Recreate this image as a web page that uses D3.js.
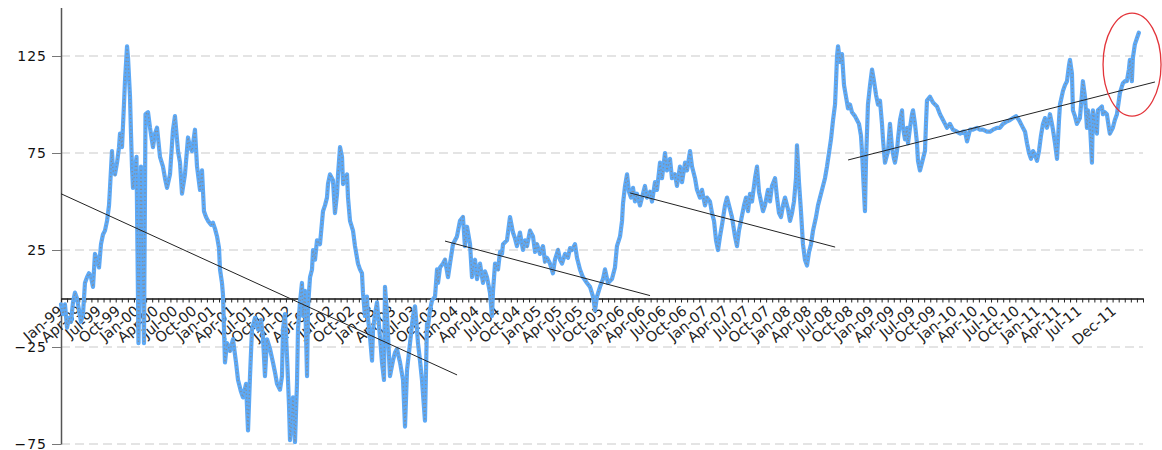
<!DOCTYPE html>
<html><head><meta charset="utf-8">
<script src="https://cdn.jsdelivr.net/npm/d3@7"></script>
<style>body{margin:0;background:#fff}svg{display:block}</style>
</head><body><svg id="c" width="1162" height="450"></svg>
<script>
// ---- data: [decimal year, value] ----
const obs1999 = [[1999.000,-3],[1999.026,-8],[1999.052,-3],[1999.079,-15],[1999.105,-10],[1999.131,-12],[1999.157,-2],[1999.183,3],[1999.210,0],[1999.236,-6],[1999.262,-12],[1999.288,-8],[1999.314,8],[1999.341,11],[1999.367,13],[1999.393,11],[1999.419,6],[1999.445,23],[1999.472,20],[1999.498,16],[1999.524,28],[1999.550,33],[1999.576,35],[1999.603,40],[1999.629,48],[1999.642,57],[1999.668,76],[1999.681,66],[1999.707,64],[1999.734,70],[1999.760,78],[1999.773,85],[1999.799,78],[1999.825,100],[1999.838,112],[1999.865,130],[1999.878,124],[1999.904,104],[1999.917,85],[1999.930,68],[1999.943,57],[1999.969,66],[1999.989,73]];
const obs2000 = [[2000.015,-23],[2000.048,68],[2000.087,-23],[2000.107,95],[2000.140,96],[2000.166,88],[2000.205,78],[2000.231,85],[2000.258,88],[2000.297,73],[2000.336,68],[2000.362,62],[2000.389,57],[2000.428,64],[2000.467,87],[2000.493,94],[2000.533,76],[2000.559,70],[2000.585,54],[2000.624,64],[2000.664,83],[2000.690,78],[2000.716,76],[2000.755,87],[2000.782,68],[2000.821,56],[2000.847,66],[2000.873,45],[2000.900,42],[2000.926,40],[2000.965,38],[2000.991,39]];
const obs2001 = [[2001.017,36],[2001.044,32],[2001.070,26],[2001.083,15],[2001.109,8],[2001.122,2],[2001.148,-33],[2001.175,-23],[2001.214,-27],[2001.253,-21],[2001.293,-33],[2001.319,-42],[2001.358,-48],[2001.384,-51],[2001.424,-44],[2001.450,-68],[2001.476,-40],[2001.502,-16],[2001.541,-10],[2001.581,-16],[2001.620,-11],[2001.646,-20],[2001.672,-40],[2001.699,-21],[2001.738,-26],[2001.777,-33],[2001.803,-38],[2001.830,-44],[2001.869,-47],[2001.895,-40],[2001.908,-16],[2001.934,-8],[2001.961,-30],[2001.987,-55]];
const obs2002 = [[2002.000,-73],[2002.024,-60],[2002.036,-51],[2002.060,-74],[2002.084,-44],[2002.096,-16],[2002.120,-2],[2002.144,8],[2002.156,-9],[2002.180,4],[2002.205,-40],[2002.217,-4],[2002.241,11],[2002.265,15],[2002.277,25],[2002.301,20],[2002.325,30],[2002.361,28],[2002.397,45],[2002.421,48],[2002.445,52],[2002.457,59],[2002.481,64],[2002.517,61],[2002.541,44],[2002.566,54],[2002.578,64],[2002.602,78],[2002.626,73],[2002.638,59],[2002.662,62],[2002.686,64],[2002.698,52],[2002.722,40],[2002.758,35],[2002.782,27],[2002.818,18],[2002.842,15],[2002.866,13],[2002.878,3],[2002.902,-9],[2002.926,1],[2002.938,-10],[2002.963,-20],[2002.987,-32],[2002.999,-16]];
const obs2003 = [[2003.023,-8],[2003.047,-2],[2003.083,-20],[2003.107,-33],[2003.131,-42],[2003.143,6],[2003.167,-8],[2003.203,-40],[2003.239,-32],[2003.263,-28],[2003.287,-26],[2003.324,-33],[2003.360,-42],[2003.384,-66],[2003.408,-37],[2003.444,-23],[2003.480,-9],[2003.504,-4],[2003.528,-16],[2003.540,-23],[2003.564,-32],[2003.588,-42],[2003.624,-63],[2003.648,-13],[2003.660,-15],[2003.684,-6],[2003.709,-1],[2003.745,1],[2003.769,15],[2003.781,8],[2003.805,16],[2003.841,18],[2003.865,20],[2003.901,11],[2003.925,18],[2003.961,28]];
const obs2004 = [[2004.009,32],[2004.045,40],[2004.081,42],[2004.105,27],[2004.130,37],[2004.166,28],[2004.190,11],[2004.202,16],[2004.226,20],[2004.250,10],[2004.286,18],[2004.322,8],[2004.346,14],[2004.370,11],[2004.406,3],[2004.430,-9],[2004.443,4],[2004.467,18],[2004.503,15],[2004.527,24],[2004.551,23],[2004.563,28],[2004.611,30],[2004.647,42],[2004.683,34],[2004.707,31],[2004.731,27],[2004.767,34],[2004.803,25],[2004.828,30],[2004.852,27],[2004.888,35],[2004.924,32],[2004.948,24],[2004.972,28]];
const obs2005 = [[2005.008,23],[2005.044,27],[2005.068,19],[2005.092,21],[2005.128,18],[2005.164,13],[2005.188,20],[2005.225,25],[2005.249,20],[2005.273,18],[2005.309,23],[2005.345,21],[2005.369,26],[2005.393,25],[2005.429,28],[2005.453,21],[2005.489,15],[2005.525,11],[2005.573,8],[2005.610,6],[2005.646,1],[2005.670,-6],[2005.694,1],[2005.730,6],[2005.766,10],[2005.790,15],[2005.826,8],[2005.874,10],[2005.910,16],[2005.934,27],[2005.971,32],[2005.995,40]];
const obs2006 = [[2006.007,49],[2006.031,58],[2006.055,64],[2006.079,55],[2006.103,52],[2006.127,57],[2006.151,50],[2006.175,54],[2006.211,48],[2006.235,52],[2006.271,58],[2006.295,52],[2006.332,55],[2006.356,50],[2006.392,60],[2006.416,56],[2006.452,70],[2006.476,62],[2006.512,75],[2006.536,66],[2006.572,72],[2006.596,62],[2006.632,64],[2006.656,58],[2006.692,68],[2006.717,60],[2006.753,70],[2006.777,66],[2006.813,76],[2006.837,68],[2006.873,62],[2006.897,56],[2006.933,52],[2006.957,56],[2006.993,48]];
const obs2007 = [[2007.017,52],[2007.053,50],[2007.078,44],[2007.102,40],[2007.126,30],[2007.150,25],[2007.174,32],[2007.198,38],[2007.234,48],[2007.258,52],[2007.294,46],[2007.318,42],[2007.354,32],[2007.378,27],[2007.402,35],[2007.426,40],[2007.463,48],[2007.487,52],[2007.511,45],[2007.535,54],[2007.559,50],[2007.595,62],[2007.619,68],[2007.643,55],[2007.667,50],[2007.691,45],[2007.715,48],[2007.751,56],[2007.775,50],[2007.799,58],[2007.836,62],[2007.860,52],[2007.884,44],[2007.908,42],[2007.932,48],[2007.956,52],[2007.992,46]];
const obs2008 = [[2008.016,40],[2008.040,44],[2008.064,50],[2008.088,62],[2008.100,79],[2008.124,60],[2008.148,45],[2008.172,28],[2008.196,20],[2008.221,17],[2008.245,24],[2008.269,28],[2008.293,35],[2008.329,42],[2008.353,48],[2008.377,52],[2008.413,58],[2008.437,62],[2008.461,68],[2008.485,75],[2008.509,82],[2008.534,92],[2008.558,100],[2008.570,112],[2008.582,125],[2008.594,130],[2008.618,122],[2008.642,126],[2008.666,110],[2008.690,104],[2008.714,98],[2008.738,100],[2008.762,96],[2008.798,94],[2008.822,92],[2008.846,90],[2008.870,84],[2008.882,76],[2008.906,55],[2008.918,45],[2008.930,70],[2008.954,100],[2008.979,110]];
const obs2009 = [[2009.003,118],[2009.027,112],[2009.051,105],[2009.075,100],[2009.099,102],[2009.123,90],[2009.135,82],[2009.159,70],[2009.183,74],[2009.195,76],[2009.219,90],[2009.243,78],[2009.267,72],[2009.279,70],[2009.303,76],[2009.315,82],[2009.340,92],[2009.364,97],[2009.376,88],[2009.400,82],[2009.424,88],[2009.436,80],[2009.460,88],[2009.484,95],[2009.496,97],[2009.520,90],[2009.544,80],[2009.556,71],[2009.580,66],[2009.604,70],[2009.616,72],[2009.640,76],[2009.652,90],[2009.664,102],[2009.700,104],[2009.737,101],[2009.761,100],[2009.785,99],[2009.821,95],[2009.857,92],[2009.881,90],[2009.905,88],[2009.941,90],[2009.977,87]];
const obs2010 = [[2010.025,86],[2010.061,85],[2010.098,86],[2010.122,86],[2010.146,81],[2010.182,87],[2010.218,87],[2010.266,88],[2010.302,87],[2010.338,87],[2010.386,86],[2010.422,86],[2010.458,87],[2010.507,88],[2010.543,88],[2010.579,90],[2010.615,91],[2010.663,92],[2010.699,93],[2010.735,94],[2010.771,92],[2010.807,89],[2010.844,86],[2010.868,80],[2010.892,75],[2010.916,72],[2010.940,76],[2010.964,74],[2010.988,71]];
const obs2011 = [[2011.012,76],[2011.036,84],[2011.060,90],[2011.084,93],[2011.108,88],[2011.132,92],[2011.144,95],[2011.168,90],[2011.180,87],[2011.205,80],[2011.229,72],[2011.253,92],[2011.265,100],[2011.301,107],[2011.325,110],[2011.349,112],[2011.373,120],[2011.385,123],[2011.409,116],[2011.421,97],[2011.445,94],[2011.469,90],[2011.505,93],[2011.529,105],[2011.541,112],[2011.566,104],[2011.590,88],[2011.602,97],[2011.626,90],[2011.650,70],[2011.662,97],[2011.686,90],[2011.710,85],[2011.722,97],[2011.746,98],[2011.770,99],[2011.782,95],[2011.806,96],[2011.830,95],[2011.854,88],[2011.866,85],[2011.902,88],[2011.926,92],[2011.951,95],[2011.987,106]];
const obs2012 = [[2012.023,111],[2012.047,112],[2012.071,112],[2012.095,118],[2012.107,123],[2012.131,112],[2012.143,124],[2012.167,131],[2012.191,134],[2012.215,137]];

const yTickValues = [125, 75, 25, -25, -75];
const xTickLabels = ["Jan-99","Apr-99","Jul-99","Oct-99","Jan-00","Apr-00","Jul-00","Oct-00","Jan-01","Apr-01","Jul-01","Oct-01","Jan-02","Apr-02","Jul-02","Oct-02","Jan-03","Apr-03","Jul-03","Oct-03","Jan-04","Apr-04","Jul-04","Oct-04","Jan-05","Apr-05","Jul-05","Oct-05","Jan-06","Apr-06","Jul-06","Oct-06","Jan-07","Apr-07","Jul-07","Oct-07","Jan-08","Apr-08","Jul-08","Oct-08","Jan-09","Apr-09","Jul-09","Oct-09","Jan-10","Apr-10","Jul-10","Oct-10","Jan-11","Apr-11","Jul-11","Dec-11"];

const trendStartYear  = [1999.000, 2003.865, 2006.092, 2008.715];
const trendStartValue = [54.0, 29.6, 54.4, 71.4];
const trendEndYear    = [2004.010, 2006.332, 2008.559, 2012.409];
const trendEndValue   = [-39.4, 1.5, 26.5, 111.6];

const highlightYear = [2012.133];
const highlightValue = [120.6];

// ---- layout ----
const series = [].concat(obs1999, obs2000, obs2001, obs2002, obs2003, obs2004, obs2005, obs2006, obs2007, obs2008, obs2009, obs2010, obs2011, obs2012);
const svg = d3.select("#c");
const x = d3.scaleLinear().domain([1999, 2002, 2011, 2012.265]).range([61, 290, 1038, 1143]);
const y = d3.scaleLinear().domain([-75, 150]).range([444, 7.5]);
const x0 = x(1999), x1 = x(2012.265);
const monthNames = ["Jan","Feb","Mar","Apr","May","Jun","Jul","Aug","Sep","Oct","Nov","Dec"];
const labelYear = s => { const [m, yy] = s.split("-"); const yr = +yy > 50 ? 1900 + +yy : 2000 + +yy; return yr + monthNames.indexOf(m) / 12; };
const font = "DejaVu Sans, Verdana, sans-serif";

// gridlines
svg.append("g").selectAll("line").data(yTickValues).join("line")
  .attr("x1", x0).attr("x2", x1).attr("y1", d => y(d)).attr("y2", d => y(d))
  .attr("stroke", "#c9c9c9").attr("stroke-width", 1).attr("stroke-dasharray", "9,5");

// y axis
const ya = svg.append("g").attr("transform", `translate(${x0},0)`)
  .call(d3.axisLeft(y).tickValues(yTickValues).tickSize(9).tickSizeOuter(0).tickPadding(5));
ya.select(".domain").attr("stroke", "#555").attr("stroke-width", 1.5);
ya.selectAll(".tick line").attr("stroke", "#777");
ya.selectAll(".tick text").attr("font-family", font).attr("font-size", 14)
  .attr("letter-spacing", 1).attr("fill", "#111").attr("dy", "0.3em");

// x labels
const y0 = y(0);
svg.append("g").selectAll("text").data(xTickLabels).join("text")
  .attr("transform", d => `translate(${x(labelYear(d)) + 3},${y0 + 14}) rotate(-40)`)
  .attr("text-anchor", "end")
  .attr("font-family", font).attr("font-size", 14.5)
  .attr("fill", "#222").text(d => d);

// x axis (zero line with small ticks)
const tickIdx = d3.scaleLinear().domain([0, 178]).range([x0, x1]);
const xa = svg.append("g").attr("transform", `translate(0,${y0})`)
  .call(d3.axisBottom(tickIdx).tickValues(d3.range(179)).tickSize(4).tickSizeOuter(0).tickFormat(""));
xa.select(".domain").attr("stroke", "#111").attr("stroke-width", 1.5);
xa.selectAll(".tick line").attr("stroke", "#222");

// series
const line = d3.line().x(d => x(d[0])).y(d => y(d[1]));
svg.append("path").datum(series).attr("d", line).attr("fill", "none")
  .attr("stroke", "#5da9f6").attr("stroke-width", 4.2).attr("stroke-linejoin", "round").attr("stroke-linecap", "round");
svg.append("path").datum(series).attr("d", line).attr("fill", "none")
  .attr("stroke", "#8a8a8a").attr("stroke-width", 1.4).attr("stroke-dasharray", "1.2,2.6").attr("opacity", 0.85);

// trend lines
svg.append("g").selectAll("line").data(trendStartYear).join("line")
  .attr("x1", (d, i) => x(trendStartYear[i])).attr("y1", (d, i) => y(trendStartValue[i]))
  .attr("x2", (d, i) => x(trendEndYear[i])).attr("y2", (d, i) => y(trendEndValue[i]))
  .attr("stroke", "#222").attr("stroke-width", 1);

// highlight ellipse
svg.append("g").selectAll("ellipse").data(highlightYear).join("ellipse")
  .attr("cx", (d, i) => x(highlightYear[i])).attr("cy", (d, i) => y(highlightValue[i]))
  .attr("rx", 29).attr("ry", 51.5).attr("fill", "none").attr("stroke", "#e3343a").attr("stroke-width", 1.3);
</script></body></html>
